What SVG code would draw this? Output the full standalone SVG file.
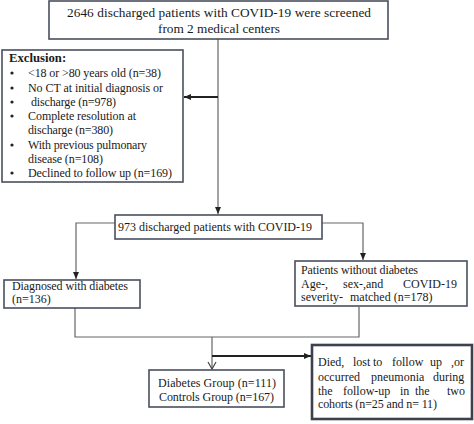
<svg xmlns="http://www.w3.org/2000/svg" width="474" height="424" viewBox="0 0 474 424">
<defs>
<style>
.box{fill:#fff;stroke:#4a4f5e;stroke-width:1.6}
.thick{stroke-width:2.6;stroke:#3d414d}
text{font-family:"Liberation Serif","Times New Roman",serif;font-size:12px;fill:#1a1a1a}
.t{font-size:13.3px}
.b{font-weight:bold;font-size:12.7px}
.c{fill:none;stroke:#666;stroke-width:1.2}
.d{fill:none;stroke:#222;stroke-width:2}
</style>
<marker id="ah" markerWidth="8" markerHeight="8" refX="7" refY="4" orient="auto" markerUnits="userSpaceOnUse">
<path d="M0,1 L7,4 L0,7 Z" fill="#222"/>
</marker>
<marker id="ao" markerWidth="10" markerHeight="10" refX="8" refY="5" orient="auto" markerUnits="userSpaceOnUse">
<path d="M1,1 L8,5 L1,9" fill="none" stroke="#444" stroke-width="1.2"/>
</marker>
</defs>
<rect width="474" height="424" fill="#fff"/>
<g id="connectors">
<path class="c" d="M218,39 V214" marker-end="url(#ah)"/>
<path class="d" d="M218,97 H184" marker-end="url(#ah)"/>
<path class="c" d="M115,223 H76 V279" marker-end="url(#ah)"/>
<path class="c" d="M322,223 H363 V260" marker-end="url(#ah)"/>
<path class="c" d="M75,308 V337 H359 V307"/>
<path class="c" d="M212,337 V369" marker-end="url(#ao)"/>
<path class="d" d="M212,356 H311" marker-end="url(#ah)"/>
</g>
<g id="n1">
<rect class="box" x="49" y="1" width="339" height="38"/>
<text class="t" x="67" y="17" textLength="304" lengthAdjust="spacing">2646 discharged  patients  with COVID-19 were screened</text>
<text class="t" x="158" y="33" textLength="122" lengthAdjust="spacing">from 2 medical  centers</text>
</g>
<g id="exclusion">
<rect class="box" x="2" y="50" width="181" height="132"/>
<text class="b" x="9" y="62">Exclusion:</text>
<g fill="#222">
<circle cx="12" cy="73" r="1.6"/>
<circle cx="12" cy="88" r="1.6"/>
<circle cx="12" cy="102" r="1.6"/>
<circle cx="12" cy="116" r="1.6"/>
<circle cx="12" cy="145" r="1.6"/>
<circle cx="12" cy="173" r="1.6"/>
</g>
<text x="28" y="77" textLength="133" lengthAdjust="spacing">&lt;18 or &gt;80 years old (n=38)</text>
<text x="28" y="92" textLength="135" lengthAdjust="spacing">No CT at initial  diagnosis or</text>
<text x="31" y="106" textLength="85" lengthAdjust="spacing">discharge (n=978)</text>
<text x="28" y="120" textLength="108" lengthAdjust="spacing">Complete resolution at</text>
<text x="28" y="134" textLength="85" lengthAdjust="spacing">discharge (n=380)</text>
<text x="28" y="149" textLength="119" lengthAdjust="spacing">With previous pulmonary</text>
<text x="28" y="163" textLength="75" lengthAdjust="spacing">disease (n=108)</text>
<text x="28" y="177" textLength="144" lengthAdjust="spacing">Declined to follow up (n=169)</text>
</g>
<g id="n973">
<rect class="box" x="115" y="215" width="207" height="24"/>
<text x="118" y="231" textLength="194" lengthAdjust="spacing">973 discharged patients with COVID-19</text>
</g>
<g id="diabetes">
<rect class="box" x="4" y="280" width="136" height="28"/>
<text x="12" y="290" textLength="116" lengthAdjust="spacing">Diagnosed with diabetes</text>
<text x="12" y="303">(n=136)</text>
</g>
<g id="nodiabetes">
<rect class="box" x="295" y="261" width="172" height="45"/>
<text x="301" y="274" textLength="117" lengthAdjust="spacing">Patients without diabetes</text>
<text x="301" y="288">Age-,</text>
<text x="343" y="288">sex-,and</text>
<text x="457" y="288" text-anchor="end">COVID-19</text>
<text x="301" y="301">severity-  <tspan x="350">matched (n=178)</tspan></text>
</g>
<g id="groups">
<rect class="box" x="149" y="370" width="135" height="37"/>
<text x="158" y="387" textLength="118" lengthAdjust="spacing">Diabetes Group  (n=111)</text>
<text x="159" y="401" textLength="115" lengthAdjust="spacing">Controls Group (n=167)</text>
</g>
<g id="excluded">
<rect class="box thick" x="312" y="345" width="160" height="74"/>
<text y="366"><tspan x="318">Died,</tspan><tspan x="353">lost</tspan><tspan x="373">to</tspan><tspan x="392">follow</tspan><tspan x="430">up</tspan><tspan x="451">,or</tspan></text>
<text y="381"><tspan x="318">occurred</tspan><tspan x="371">pneumonia</tspan><tspan x="433">during</tspan></text>
<text y="395"><tspan x="318">the</tspan><tspan x="343">follow-up</tspan><tspan x="400">in</tspan><tspan x="415">the</tspan><tspan x="447">two</tspan></text>
<text x="318" y="408" textLength="119" lengthAdjust="spacing">cohorts (n=25 and n= 11)</text>
</g>
</svg>
